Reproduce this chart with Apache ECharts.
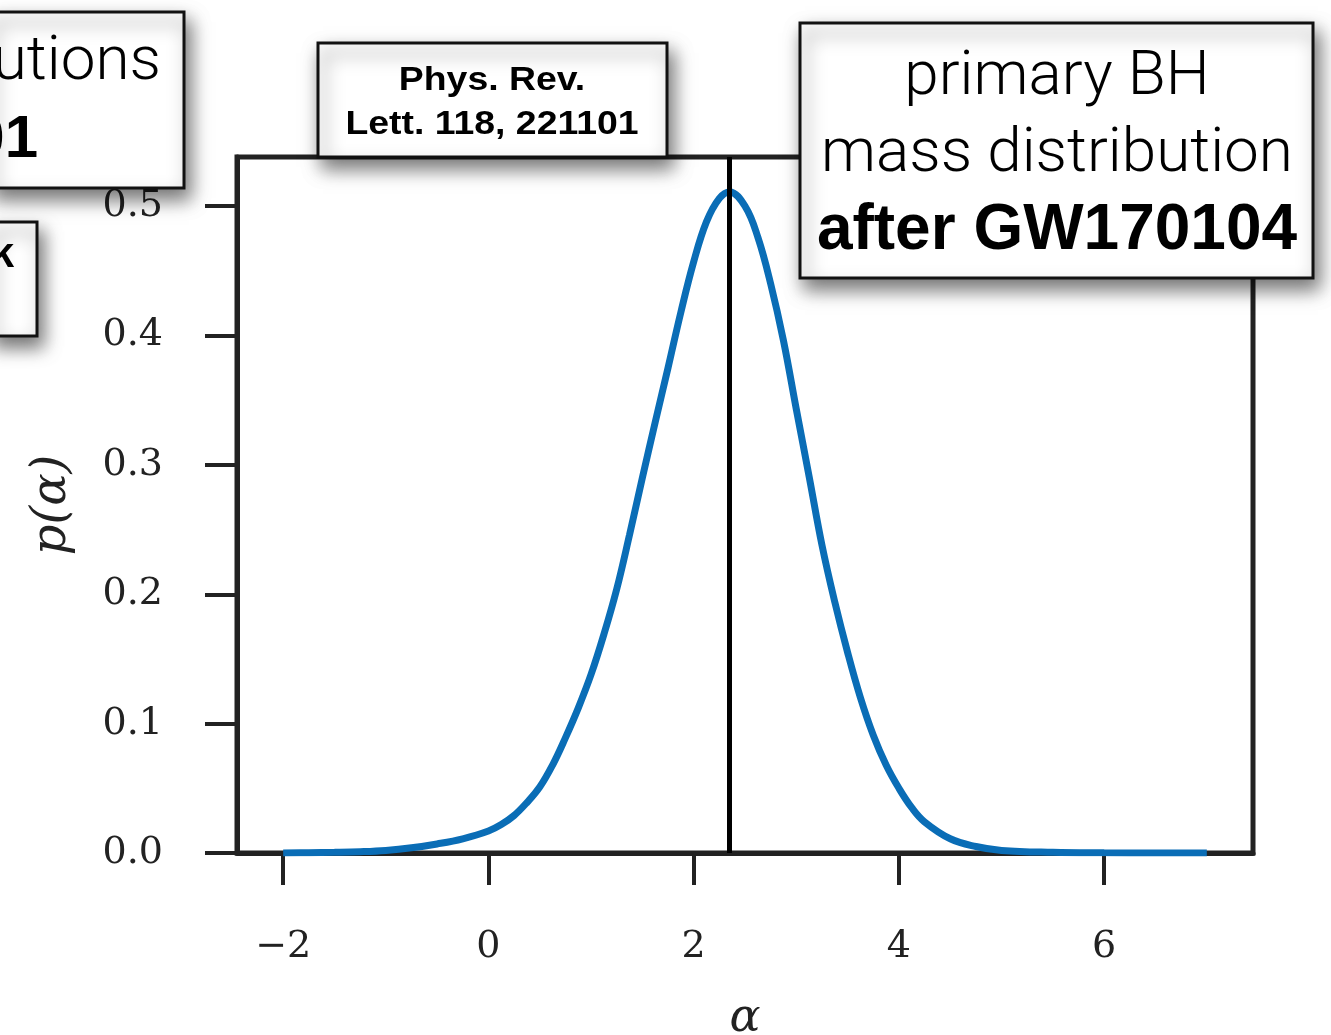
<!DOCTYPE html>
<html>
<head>
<meta charset="utf-8">
<script src="https://cdn.jsdelivr.net/npm/echarts@6/dist/echarts.min.js"></script>
<style>
html,body{margin:0;padding:0;background:#fff;}
#chart{width:1331px;height:1035px;}
</style>
</head>
<body>
<div id="chart"></div>
<script>
// ---- data ----
var alphaValues = [-2, -1.75, -1.5, -1.25, -1, -0.75, -0.5, -0.25, 0, 0.125, 0.25, 0.375, 0.5, 0.625, 0.75, 0.875, 1, 1.125, 1.25, 1.375, 1.5, 1.625, 1.75, 1.875, 2, 2.125, 2.25, 2.35, 2.5, 2.625, 2.75, 2.875, 3, 3.125, 3.25, 3.375, 3.5, 3.625, 3.75, 3.875, 4, 4.125, 4.25, 4.5, 4.75, 5, 5.5, 6, 6.5, 7];
var densityValues = [0, 0.0002, 0.0005, 0.001, 0.002, 0.004, 0.007, 0.011, 0.017, 0.022, 0.029, 0.039, 0.051, 0.068, 0.089, 0.112, 0.138, 0.169, 0.204, 0.246, 0.29, 0.333, 0.375, 0.418, 0.457, 0.488, 0.506, 0.511, 0.500, 0.476, 0.44, 0.396, 0.343, 0.291, 0.238, 0.194, 0.155, 0.120, 0.091, 0.068, 0.05, 0.035, 0.024, 0.011, 0.005, 0.002, 0.0005, 0.0001, 0, 0];
var markerAlpha = 2.35;
var xTicks = [-2, 0, 2, 4, 6];
var yTicks = [0, 0.1, 0.2, 0.3, 0.4, 0.5];
var xLabel = 'α';
var yLabel = 'p(α)';
var boxRefText = ['Phys. Rev.', 'Lett. 118, 221101'];
var boxMainText = ['primary BH', 'mass distribution', 'after GW170104'];
var boxLeftTopText = ['utions', '01'];
var boxLeftMidText = 'k';

var seriesData = alphaValues.map(function (a, i) { return [a, densityValues[i]]; });

var chart = echarts.init(document.getElementById('chart'), null, {renderer: 'canvas'});

var axisColor = '#222';
var serif = '"DejaVu Serif", "Liberation Serif", serif';
var shadowStyle = {
  fill: '#fff', stroke: '#111', lineWidth: 3,
  shadowBlur: 18, shadowOffsetX: 5, shadowOffsetY: 10, shadowColor: 'rgba(0,0,0,0.55)'
};
function boxRect(x, y, w, h) {
  return { type: 'rect', z: 100, shape: {x: x, y: y, width: w, height: h}, style: shadowStyle };
}
function txt(t, x, y, font, align, sx) {
  return { type: 'text', z: 101, x: x, y: y, scaleX: sx || 1,
    style: { text: t, x: 0, y: 0, font: font, fill: '#000', textAlign: align, textVerticalAlign: 'middle' } };
}
var light = '300 62px Roboto, "Liberation Sans", sans-serif';
var bold = 'bold 64px "Liberation Sans", Arial, sans-serif';
var refFont = 'bold 34px "Liberation Sans", Arial, sans-serif';

var option = {
  backgroundColor: '#fff',
  animation: false,
  grid: { left: 237, right: 78, top: 157, bottom: 182, show: true, borderColor: axisColor, borderWidth: 5,
    backgroundColor: 'transparent', containLabel: false, outerBoundsMode: 'none' },
  xAxis: {
    type: 'value', min: -2.45, max: 7.45,
    name: xLabel, nameLocation: 'middle', nameGap: 143,
    nameTextStyle: { fontFamily: serif, fontStyle: 'italic', fontSize: 46, color: '#222' },
    splitLine: { show: false },
    axisLine: { onZero: false, lineStyle: { color: axisColor, width: 5 } },
    axisTick: { show: true, length: 32, lineStyle: { color: axisColor, width: 4 }, customValues: xTicks },
    axisLabel: { customValues: xTicks, margin: 75, fontFamily: serif, fontSize: 38, color: '#222',
      formatter: function (v) { return String(v).replace('-', '\u2212'); } }
  },
  yAxis: {
    type: 'value', min: 0, max: 0.538,
    name: yLabel, nameLocation: 'middle', nameGap: 160, nameRotate: 90,
    nameTextStyle: { fontFamily: serif, fontStyle: 'italic', fontSize: 48, color: '#222' },
    splitLine: { show: false },
    axisLine: { show: true, onZero: false, lineStyle: { color: axisColor, width: 5 } },
    axisTick: { show: true, length: 32, lineStyle: { color: axisColor, width: 4 }, customValues: yTicks },
    axisLabel: { customValues: yTicks, margin: 74, fontFamily: serif, fontSize: 38, color: '#222',
      formatter: function (v) { return v.toFixed(1); } }
  },
  series: [{
    type: 'line', data: seriesData, showSymbol: false, smooth: 0.4,
    lineStyle: { color: '#0a6db6', width: 7 },
    markLine: {
      silent: true, symbol: ['none', 'none'], label: { show: false },
      lineStyle: { color: '#000', width: 5, type: 'solid' },
      data: [{ xAxis: markerAlpha }]
    }
  }],
  graphic: [
    boxRect(-10, 12, 194, 176),
    txt(boxLeftTopText[0], 161, 63, light, 'right'),
    txt(boxLeftTopText[1], 38, 140, 'bold 60px "Liberation Sans", Arial, sans-serif', 'right'),
    boxRect(-10, 222, 47, 114),
    txt(boxLeftMidText, 14, 255, 'bold 42px "Liberation Sans", Arial, sans-serif', 'right'),
    boxRect(318, 43, 349, 114),
    txt(boxRefText[0], 492, 81, refFont, 'center', 1.1),
    txt(boxRefText[1], 492, 125, refFont, 'center', 1.1),
    boxRect(800, 23, 513, 255),
    txt(boxMainText[0], 1057, 78, light, 'center'),
    txt(boxMainText[1], 1057, 155, light, 'center'),
    txt(boxMainText[2], 1057, 231, bold, 'center')
  ]
};
chart.setOption(option);
</script>
</body>
</html>
